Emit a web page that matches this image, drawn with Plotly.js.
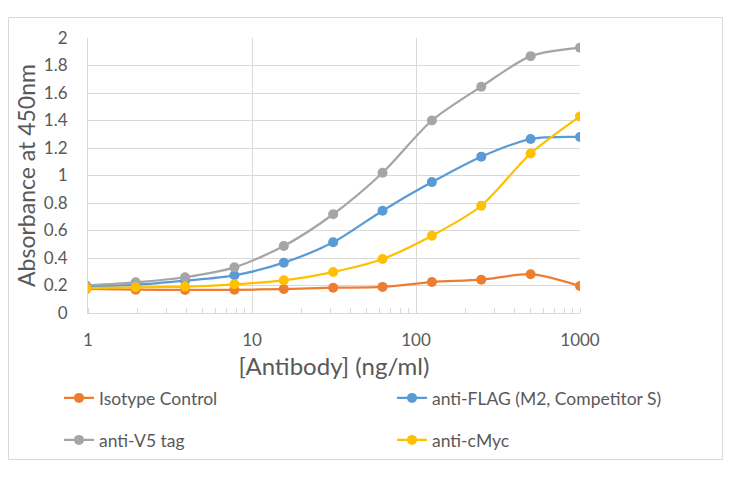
<!DOCTYPE html>
<html>
<head>
<meta charset="utf-8">
<script src="https://cdn.plot.ly/plotly-3.0.1.min.js"></script>
<style>
  html, body { margin: 0; padding: 0; background: #ffffff; }
  #chart { width: 730px; height: 478px; }
</style>
</head>
<body>
<div id="chart"></div>
<script>
// Antibody concentrations (ng/ml), 2-fold dilution series
const concentrations = [0.9765625, 1.953125, 3.90625, 7.8125, 15.625, 31.25, 62.5, 125, 250, 500, 1000];

// Absorbance at 450nm
const isotypeControl = [0.175, 0.170, 0.168, 0.169, 0.174, 0.184, 0.190, 0.225, 0.242, 0.282, 0.196];
const antiFLAG       = [0.195, 0.205, 0.235, 0.274, 0.366, 0.514, 0.744, 0.952, 1.137, 1.265, 1.280];
const antiV5         = [0.200, 0.223, 0.260, 0.332, 0.487, 0.718, 1.020, 1.400, 1.646, 1.868, 1.930];
const antiCMyc       = [0.180, 0.187, 0.192, 0.209, 0.238, 0.298, 0.393, 0.562, 0.780, 1.160, 1.430];

const seriesNames = ["Isotype Control", "anti-FLAG (M2, Competitor S)", "anti-V5 tag", "anti-cMyc"];
const xTickVals = [1, 10, 100, 1000];
const xTickText = ["1", "10", "100", "1000"];

const colors = ["#ED7D31", "#5B9BD5", "#A5A5A5", "#FFC000"];
const FONT = "Lato, 'Open Sans', sans-serif";
const TXT = "#595959";

const W = 730, H = 478;
const M = {l: 88, r: 150, t: 38, b: 165};
const pw = W - M.l - M.r, ph = H - M.t - M.b;
function px2paperX(px) { return (px - M.l) / pw; }
function px2paperY(py) { return (H - M.b - py) / ph; }

const allY = [isotypeControl, antiFLAG, antiV5, antiCMyc];
const legendIds = ["legend", "legend2", "legend3", "legend4"];
// legend slot positions in pixels (left, vertical centre)
const legendPos = [[59, 398], [392, 398], [59, 440], [392, 440]];

const traces = allY.map((ys, i) => ({
  x: concentrations,
  y: ys,
  name: seriesNames[i],
  type: "scatter",
  mode: "lines+markers",
  line: {color: colors[i], width: 2.25, shape: "spline", smoothing: 0.8},
  marker: {color: colors[i], size: 10},
  legend: legendIds[i],
  cliponaxis: true
}));

function makeLegend(i) {
  return {
    orientation: "h",
    xref: "container", yref: "container",
    x: legendPos[i][0] / W, y: 1 - legendPos[i][1] / H,
    xanchor: "left", yanchor: "middle",
    font: {family: FONT, size: 17.5, color: TXT},
    bgcolor: "rgba(0,0,0,0)",
    itemclick: false, itemdoubleclick: false
  };
}

const layout = {
  width: W, height: H,
  margin: M,
  paper_bgcolor: "#ffffff",
  plot_bgcolor: "#ffffff",
  font: {family: FONT, color: TXT},
  showlegend: true,
  legend: makeLegend(0),
  legend2: makeLegend(1),
  legend3: makeLegend(2),
  legend4: makeLegend(3),
  xaxis: {
    type: "log",
    range: [0, 3],
    tickvals: xTickVals,
    ticktext: xTickText,
    showgrid: true,
    gridcolor: "#d9d9d9",
    gridwidth: 1,
    showline: true,
    linecolor: "#d9d9d9",
    linewidth: 1,
    ticks: "",
    ticklabelstandoff: 12,
    tickfont: {family: FONT, size: 17, color: TXT},
    minor: {dtick: "D1", ticks: "inside", ticklen: 5, tickcolor: "#d9d9d9", tickwidth: 1, showgrid: false},
    title: {text: "[Antibody] (ng/ml)", font: {family: FONT, size: 24, color: TXT}, standoff: 11},
    zeroline: false,
    automargin: false,
    fixedrange: true
  },
  yaxis: {
    range: [0, 2],
    dtick: 0.2,
    tick0: 0,
    showgrid: true,
    gridcolor: "#d9d9d9",
    gridwidth: 1,
    showline: true,
    linecolor: "#d9d9d9",
    zeroline: false,
    ticks: "",
    ticklabelstandoff: 16,
    tickfont: {family: FONT, size: 17, color: TXT},
    title: {text: "Absorbance at 450nm", font: {family: FONT, size: 23, color: TXT}, standoff: 1},
    fixedrange: true
  },
  shapes: [{
    type: "rect",
    xref: "paper", yref: "paper",
    x0: px2paperX(8.5), x1: px2paperX(722.5),
    y0: px2paperY(459.5), y1: px2paperY(17.5),
    line: {color: "#d9d9d9", width: 1},
    fillcolor: "rgba(0,0,0,0)",
    layer: "below"
  }]
};

Plotly.newPlot("chart", traces, layout, {staticPlot: true, displayModeBar: false});
</script>
</body>
</html>
